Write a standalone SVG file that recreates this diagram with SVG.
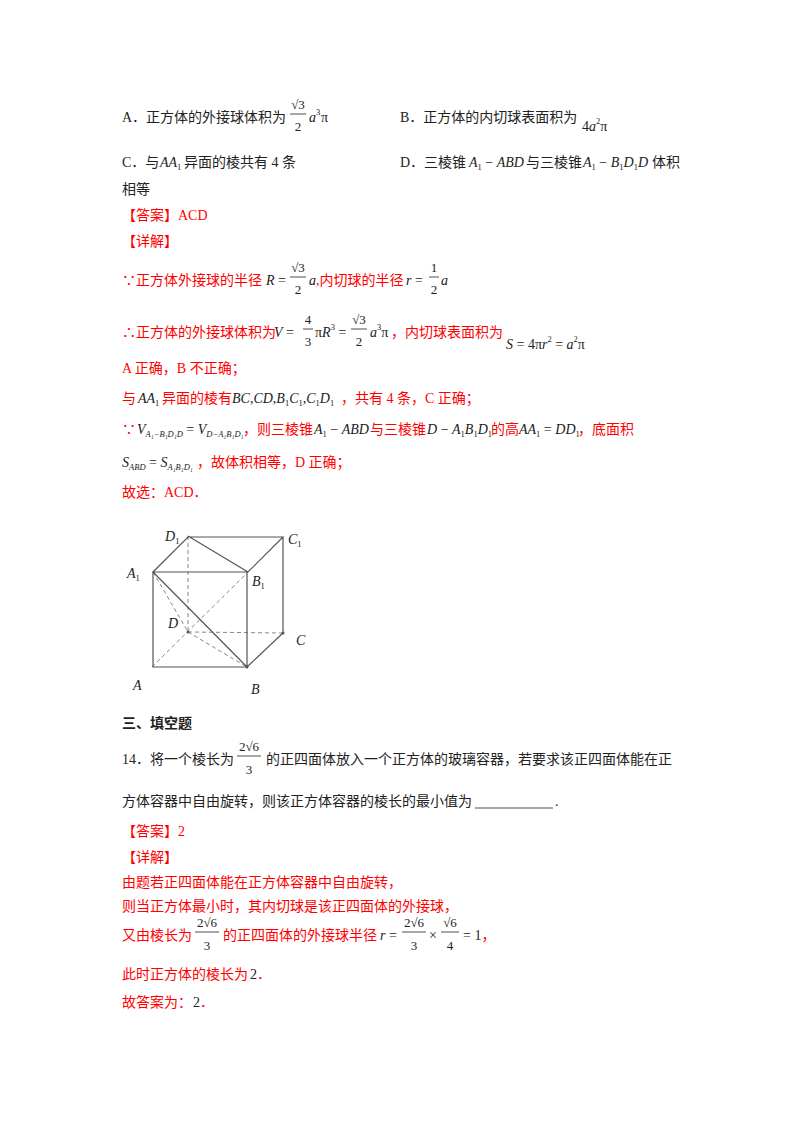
<svg xmlns="http://www.w3.org/2000/svg" width="800" height="1132" viewBox="0 0 800 1132">
<style>
text{font-family:"Liberation Serif","Noto Sans CJK SC",serif;font-size:14px;fill:#222}
.r{fill:#f00}
.m{font-style:italic}
.s{font-size:8.5px}
.f{font-size:13px;text-anchor:middle}
.b{font-weight:bold}
.e{stroke:#555;stroke-width:1.2;fill:none}
.d{stroke:#888;stroke-width:1;stroke-dasharray:4 3;fill:none}
.fl{stroke:#222;stroke-width:0.8}
</style>
<rect width="800" height="1132" fill="#fff"/>
<g id="options">
<text x="122" y="122">A．正方体的外接球体积为</text>
<text x="298" y="109" class="f">√3</text><line class="fl" x1="290" y1="114" x2="306" y2="114"/><text x="298" y="131" class="f">2</text>
<text x="309" y="122" class="m">a</text><text x="316" y="115" class="s">3</text><text x="321" y="122">π</text>
<text x="400" y="122">B．正方体的内切球表面积为</text>
<text x="582" y="131">4<tspan class="m">a</tspan><tspan class="s" dy="-7">2</tspan><tspan dy="7">π</tspan></text>
<text x="122" y="167">C．与</text>
<text x="160" y="167" class="m">AA<tspan class="s" font-style="normal" dy="3">1</tspan></text>
<text x="184" y="167">异面的棱共有 4 条</text>
<text x="400" y="167">D．三棱锥</text>
<text x="469" y="167"><tspan class="m">A</tspan><tspan class="s" dy="3">1</tspan><tspan dy="-3"> − </tspan><tspan class="m">ABD</tspan></text>
<text x="526" y="167">与三棱锥</text>
<text x="583" y="167"><tspan class="m">A</tspan><tspan class="s" dy="3">1</tspan><tspan dy="-3"> − </tspan><tspan class="m">B</tspan><tspan class="s" dy="3">1</tspan><tspan class="m" dy="-3">D</tspan><tspan class="s" dy="3">1</tspan><tspan class="m" dy="-3">D</tspan></text>
<text x="652" y="167">体积</text>
<text x="122" y="194">相等</text>
</g>
<g id="answer1">
<text x="122" y="220" class="r">【答案】ACD</text>
<text x="122" y="246" class="r">【详解】</text>
<text x="122" y="285" class="r">∵正方体外接球的半径</text>
<text x="266" y="285"><tspan class="m">R</tspan> =</text>
<text x="298" y="272" class="f">√3</text><line class="fl" x1="290" y1="277" x2="306" y2="277"/><text x="298" y="294" class="f">2</text>
<text x="309" y="285" class="m">a</text>
<text x="316" y="285" class="r">,内切球的半径</text>
<text x="406" y="285"><tspan class="m">r</tspan> =</text>
<text x="434" y="272" class="f">1</text><line class="fl" x1="429" y1="277" x2="439" y2="277"/><text x="434" y="294" class="f">2</text>
<text x="441" y="285" class="m">a</text>
<text x="122" y="337" class="r">∴正方体的外接球体积为</text>
<text x="274" y="337"><tspan class="m">V</tspan> =</text>
<text x="308" y="324" class="f">4</text><line class="fl" x1="303" y1="329" x2="313" y2="329"/><text x="308" y="346" class="f">3</text>
<text x="315" y="337">π<tspan class="m">R</tspan><tspan class="s" dy="-7">3</tspan><tspan dy="7"> =</tspan></text>
<text x="359" y="324" class="f">√3</text><line class="fl" x1="351" y1="329" x2="367" y2="329"/><text x="359" y="346" class="f">2</text>
<text x="370" y="337"><tspan class="m">a</tspan><tspan class="s" dy="-7">3</tspan><tspan dy="7">π</tspan></text>
<text x="391" y="337" class="r">，内切球表面积为</text>
<text x="506" y="349"><tspan class="m">S</tspan> = 4π<tspan class="m">r</tspan><tspan class="s" dy="-7">2</tspan><tspan dy="7"> = </tspan><tspan class="m">a</tspan><tspan class="s" dy="-7">2</tspan><tspan dy="7">π</tspan></text>
<text x="122" y="373" class="r">A 正确，B 不正确；</text>
<text x="122" y="403" class="r">与</text>
<text x="138" y="403" class="m">AA<tspan class="s" font-style="normal" dy="3">1</tspan></text>
<text x="162" y="403" class="r">异面的棱有</text>
<text x="232" y="403"><tspan class="m">BC</tspan>,<tspan class="m">CD</tspan>,<tspan class="m">B</tspan><tspan class="s" dy="3">1</tspan><tspan class="m" dy="-3">C</tspan><tspan class="s" dy="3">1</tspan><tspan dy="-3">,</tspan><tspan class="m">C</tspan><tspan class="s" dy="3">1</tspan><tspan class="m" dy="-3">D</tspan><tspan class="s" dy="3">1</tspan></text>
<text x="341" y="403" class="r">，共有 4 条，C 正确；</text>
<text x="122" y="434" class="r">∵</text>
<text x="137" y="434"><tspan class="m">V</tspan><tspan class="s m" dy="3">A₁−B₁D₁D</tspan><tspan dy="-3"> = </tspan><tspan class="m">V</tspan><tspan class="s m" dy="3">D−A₁B₁D₁</tspan></text>
<text x="243" y="434" class="r">，则三棱锥</text>
<text x="314" y="434"><tspan class="m">A</tspan><tspan class="s" dy="3">1</tspan><tspan dy="-3"> − </tspan><tspan class="m">ABD</tspan></text>
<text x="370" y="434" class="r">与三棱锥</text>
<text x="427" y="434"><tspan class="m">D</tspan> − <tspan class="m">A</tspan><tspan class="s" dy="3">1</tspan><tspan class="m" dy="-3">B</tspan><tspan class="s" dy="3">1</tspan><tspan class="m" dy="-3">D</tspan><tspan class="s" dy="3">1</tspan></text>
<text x="491" y="434" class="r">的高</text>
<text x="519" y="434"><tspan class="m">AA</tspan><tspan class="s" dy="3">1</tspan><tspan dy="-3"> = </tspan><tspan class="m">DD</tspan><tspan class="s" dy="3">1</tspan></text>
<text x="578" y="434" class="r">，底面积</text>
<text x="122" y="467"><tspan class="m">S</tspan><tspan class="s m" dy="3">ABD</tspan><tspan dy="-3"> = </tspan><tspan class="m">S</tspan><tspan class="s m" dy="3">A₁B₁D₁</tspan></text>
<text x="197" y="467" class="r">，故体积相等，D 正确；</text>
<text x="122" y="497" class="r">故选：ACD．</text>
</g>
<g id="cube">
<line class="d" x1="188" y1="536" x2="188" y2="632"/>
<line class="d" x1="188" y1="632" x2="283" y2="633"/>
<line class="d" x1="152" y1="667" x2="248" y2="572"/>
<line class="d" x1="153" y1="572" x2="188" y2="632"/>
<line class="d" x1="188" y1="632" x2="247" y2="667"/>
<path class="e" d="M153 572H248L283 537H188ZM188 536L248 572M153 572V667H247V572M247 667L283 633V537M153 572L247 667"/>
<g fill="#555"><circle cx="247" cy="667" r="1.5"/><circle cx="283" cy="633" r="1.5"/><circle cx="188" cy="632" r="1.5"/></g>
<text x="165" y="541" class="m">D<tspan class="s" dy="3" font-style="normal">1</tspan></text>
<text x="288" y="544" class="m">C<tspan class="s" dy="3" font-style="normal">1</tspan></text>
<text x="127" y="578" class="m">A<tspan class="s" dy="3" font-style="normal">1</tspan></text>
<text x="252" y="586" class="m">B<tspan class="s" dy="3" font-style="normal">1</tspan></text>
<text x="168" y="628" class="m">D</text>
<text x="296" y="645" class="m">C</text>
<text x="133" y="690" class="m">A</text>
<text x="251" y="694" class="m">B</text>
</g>
<g id="q14">
<text x="122" y="728" class="b">三、填空题</text>
<text x="122" y="764">14．将一个棱长为</text>
<text x="249" y="751" class="f">2√6</text><line class="fl" x1="237" y1="756" x2="261" y2="756"/><text x="249" y="774" class="f">3</text>
<text x="266" y="764">的正四面体放入一个正方体的玻璃容器，若要求该正四面体能在正</text>
<text x="122" y="806">方体容器中自由旋转，则该正方体容器的棱长的最小值为</text>
<line x1="475" y1="808" x2="553" y2="808" stroke="#222" stroke-width="0.8"/>
<text x="555" y="806">.</text>
<text x="122" y="836" class="r">【答案】2</text>
<text x="122" y="862" class="r">【详解】</text>
<text x="122" y="887" class="r">由题若正四面体能在正方体容器中自由旋转，</text>
<text x="122" y="911" class="r">则当正方体最小时，其内切球是该正四面体的外接球，</text>
<text x="122" y="940" class="r">又由棱长为</text>
<text x="207" y="927" class="f">2√6</text><line class="fl" x1="195" y1="932" x2="219" y2="932"/><text x="207" y="950" class="f">3</text>
<text x="223" y="940" class="r">的正四面体的外接球半径</text>
<text x="380" y="940"><tspan class="m">r</tspan> =</text>
<text x="414" y="927" class="f">2√6</text><line class="fl" x1="402" y1="932" x2="426" y2="932"/><text x="414" y="950" class="f">3</text>
<text x="429" y="940">×</text>
<text x="450" y="927" class="f">√6</text><line class="fl" x1="441" y1="932" x2="459" y2="932"/><text x="450" y="950" class="f">4</text>
<text x="463" y="940">= 1<tspan class="r">，</tspan></text>
<text x="122" y="979" class="r">此时正方体的棱长为</text>
<text x="250" y="979">2<tspan class="r">．</tspan></text>
<text x="122" y="1007" class="r">故答案为：</text>
<text x="193" y="1007">2<tspan class="r">．</tspan></text>
</g>
</svg>
